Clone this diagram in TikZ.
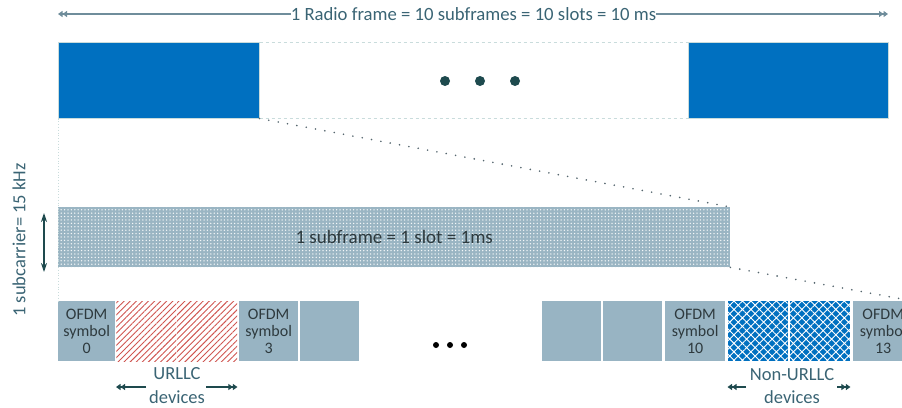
\documentclass[tikz,border=0pt]{standalone}
\usepackage{fontspec}
\setmainfont{Carlito}
\usetikzlibrary{arrows.meta,patterns,patterns.meta}
\definecolor{frameblue}{HTML}{0070C0}
\definecolor{symfill}{HTML}{98B4C3}
\definecolor{darkteal}{HTML}{1E4A4E}
\definecolor{arrowgrey}{HTML}{6F8D9B}
\definecolor{labeltxt}{HTML}{3A6474}
\definecolor{hatchred}{HTML}{CF5550}
\definecolor{dashlight}{HTML}{C9DCDC}
\definecolor{subfill}{HTML}{9AB5C3}
\definecolor{celltxt}{HTML}{2E3A3E}
\definecolor{dotgrey}{HTML}{55666E}
\begin{document}
\begin{tikzpicture}[x=1pt,y=-1pt,
  blk/.style={inner sep=0pt, anchor=north west, minimum height=76pt, fill=frameblue, draw=dashlight, line width=0.5pt},
  cell/.style={inner sep=0pt, anchor=north west, minimum height=60pt, minimum width=#1, fill=symfill, align=center, text=celltxt, font=\fontsize{16}{17}\selectfont},
  redcell/.style={inner sep=0pt, anchor=north west, minimum height=60pt, minimum width=#1, pattern={Lines[angle=45,distance=4.3pt,line width=0.9pt]}, pattern color=hatchred},
  bluecell/.style={inner sep=0pt, anchor=north west, minimum height=60pt, minimum width=#1, fill=frameblue, postaction={pattern={Hatch[angle=45,distance=6pt,line width=0.9pt]}, pattern color=white}},
  bigdot/.style={circle, fill=darkteal, inner sep=0pt, minimum size=10pt},
  smalldot/.style={circle, fill=black, inner sep=0pt, minimum size=6pt},
  dtip/.style={-{Triangle[length=4.5pt,width=6pt]Triangle[length=4.5pt,width=6pt]}},
  dotline/.style={dotgrey, line width=1.8pt, line cap=round, dash pattern=on 0pt off 9.5pt},
  lbl/.style={text=labeltxt, font=\fontsize{18.5}{20}\selectfont, inner sep=0pt}
]
\useasboundingbox (0,0) rectangle (902,407);

% top radio frame
\node[blk, minimum width=201pt] (lf) at (58,42) {};
\node[blk, minimum width=200pt] (rf) at (688,42) {};
\draw[dashlight, dashed, line width=0.6pt] (lf.north east) -- (rf.north west);
\draw[dashlight, dashed, line width=0.6pt] (lf.south east) -- (rf.south west);
\node[bigdot] (d1) at (445,81) {};
\node[bigdot] (d2) at (480,81) {};
\node[bigdot] (d3) at (515,81) {};

% title arrow
\node[lbl, font=\fontsize{18.7}{20}\selectfont] (ttl) at (473.5,14) {1 Radio frame = 10 subframes = 10 slots = 10 ms};
\coordinate (ta) at (58,14);
\coordinate (tb) at (888,14);
\draw[arrowgrey, line width=1.4pt, dtip] (ttl.west) -- (ta);
\draw[arrowgrey, line width=1.4pt, dtip] (ttl.east) -- (tb);

% subframe
\node[inner sep=0pt, anchor=north west, minimum width=672pt, minimum height=60pt, fill=subfill,
      postaction={pattern={Dots[distance=3.4pt,radius=0.75pt]}, pattern color=white!90!subfill},
      font=\fontsize{19}{20}\selectfont, text=celltxt] (sf) at (58,207) {1 subframe = 1 slot = 1ms};

% symbols
\node[cell=57pt] (s0) at (58,301) {OFDM\\symbol\\0};
\node[redcell=60pt] (r1) at (116,301) {};
\node[redcell=60pt] (r2) at (177,301) {};
\node[cell=59pt] (s3) at (239,301) {OFDM\\symbol\\3};
\node[cell=59pt] (s4) at (300,301) {};
\node[smalldot] (e1) at (436,345) {};
\node[smalldot] (e2) at (450,345) {};
\node[smalldot] (e3) at (464,345) {};
\node[cell=59pt] (s8) at (542,301) {};
\node[cell=59pt] (s9) at (603,301) {};
\node[cell=60pt] (s10) at (665,301) {OFDM\\symbol\\10};
\node[bluecell=60pt] (b11) at (727.5,301) {};
\node[bluecell=60pt] (b12) at (790,301) {};
\node[cell=60pt] (s13) at (853,301) {OFDM\\symbol\\13};

% zoom lines
\coordinate (zend) at (902,299);
\draw[dotline] (lf.south east) -- (sf.north east);
\draw[dotline] (sf.south east) -- (zend);
\draw[dashlight, dotted, line width=0.8pt] (lf.south west) -- (s0.north west);

% subcarrier
\coordinate (va) at (44,213);
\coordinate (vb) at (44,272);
\draw[darkteal, line width=1.2pt, {Stealth[length=9pt,width=6pt]}-{Stealth[length=9pt,width=6pt]}] (va) -- (vb);
\node[lbl, rotate=90, font=\fontsize{18.5}{20}\selectfont] (sc) at (19,240) {1 subcarrier= 15 kHz};

% URLLC labels
\node[lbl] (ul) at (177,374) {URLLC};
\node[lbl] (ud) at (177,397) {devices};
\coordinate (ua) at (146,387);
\coordinate (ub) at (206,387);
\draw[darkteal, line width=1.5pt, dtip] (ua) -- (r1.west |- ua);
\draw[darkteal, line width=1.5pt, dtip] (ub) -- (r2.east |- ub);

\node[lbl] (nl) at (792,375) {Non-URLLC};
\node[lbl] (nd) at (792,397) {devices};
\coordinate (na) at (746,387);
\coordinate (nb) at (837,387);
\draw[darkteal, line width=1.5pt, dtip] (na) -- (b11.west |- na);
\draw[darkteal, line width=1.5pt, dtip] (nb) -- (b12.east |- nb);
\end{tikzpicture}
\end{document}
